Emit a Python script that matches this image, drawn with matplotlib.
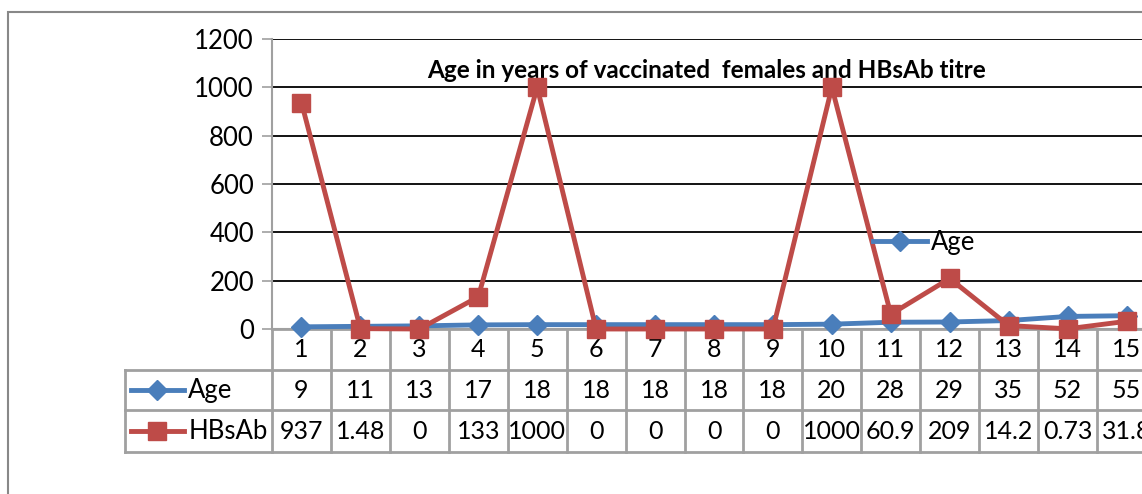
import matplotlib.pyplot as plt
from matplotlib.lines import Line2D
from matplotlib.patches import Rectangle
import matplotlib.transforms as mtrans

plt.rcParams['font.family'] = ['Lato', 'DejaVu Sans']

cats = list(range(1, 16))
age = [9, 11, 13, 17, 18, 18, 18, 18, 18, 20, 28, 29, 35, 52, 55]
hbsab = [937, 1.48, 0, 133, 1000, 0, 0, 0, 0, 1000, 60.9, 209, 14.2, 0.73, 31.8]
hbsab_txt = ["937", "1.48", "0", "133", "1000", "0", "0", "0", "0", "1000",
             "60.9", "209", "14.2", "0.73", "31.8"]
title = "Age in years of vaccinated  females and HBsAb titre"

blue = "#4A7EBB"
red = "#BE4B48"
grey = "#A0A0A0"
fs = 18

W, H = 1142, 494
fig = plt.figure(figsize=(W / 100, H / 100), dpi=100)

# outer chart border
fig.patches.append(Rectangle((8 / W, -0.1), 1.2, 1 - 12 / H + 0.1, transform=fig.transFigure,
                             fill=False, edgecolor="#888888", linewidth=1.5))

ax = fig.add_axes([272 / W, 1 - 329 / H, 884 / W, 290 / H])
ax.set_xlim(0.5, 15.5)
ax.set_ylim(0, 1200)
ax.set_yticks(range(0, 1201, 200))
ax.tick_params(axis='y', labelsize=18.5, length=7, width=1.2, color=grey, pad=6)
ax.set_xticks([])
for s in ['top', 'right', 'bottom']:
    ax.spines[s].set_visible(False)
ax.spines['left'].set_color(grey)
ax.spines['left'].set_linewidth(1.5)
for v in range(200, 1201, 200):
    ax.axhline(v, color="black", linewidth=1.3, zorder=1)
ax.axhline(0, color=grey, linewidth=1.5, zorder=1)

l_age, = ax.plot(cats, age, color=blue, linewidth=3.5, marker='D', markersize=10,
                 zorder=3, clip_on=False)
l_hb, = ax.plot(cats, hbsab, color=red, linewidth=3.5, marker='s', markersize=12.5,
                zorder=4, clip_on=False)

ax.text(0.491, 0.89, title, transform=ax.transAxes, ha='center', va='center',
        fontsize=17.5, fontweight='bold')

ax.legend([l_age], ['Age'], loc='center left', bbox_to_anchor=(0.68, 0.30),
          frameon=False, fontsize=18.5, handlelength=2.1, handletextpad=0.15, borderpad=0,
          borderaxespad=0)

# data table under the axis
tr = mtrans.blended_transform_factory(ax.transData, ax.transAxes)
rows = [0, -41 / 290, -81 / 290, -123 / 290]
hx = -2.0
lkw = dict(transform=tr, clip_on=False, color=grey, linewidth=2)
for x in [c + 0.5 for c in range(0, 16)]:
    ax.add_line(Line2D([x, x], [rows[0], rows[3]], **lkw))
ax.add_line(Line2D([hx, hx], [rows[1], rows[3]], **lkw))
ax.add_line(Line2D([0.5, 15.5], [rows[0], rows[0]], **lkw))
for r in rows[1:]:
    ax.add_line(Line2D([hx, 15.6], [r, r], **lkw))

ym = [(rows[k] + rows[k + 1]) / 2 for k in range(3)]
for i, c in enumerate(cats):
    ax.text(c, ym[0], str(c), transform=tr, ha='center', va='center', fontsize=fs, clip_on=False)
    ax.text(c, ym[1], str(age[i]), transform=tr, ha='center', va='center', fontsize=fs, clip_on=False)
    ax.text(c, ym[2], hbsab_txt[i], transform=tr, ha='center', va='center', fontsize=fs, clip_on=False)

for k, (lab, col, mk, ms) in enumerate([("Age", blue, 'D', 10), ("HBsAb", red, 's', 12.5)]):
    y = ym[k + 1]
    ax.add_line(Line2D([hx + 0.1, hx + 1.0], [y, y], transform=tr, clip_on=False,
                       color=col, linewidth=3.5))
    ax.add_line(Line2D([hx + 0.55], [y], transform=tr, clip_on=False, color=col,
                       marker=mk, markersize=ms, linestyle='none'))
    ax.text(hx + 1.08, y, lab, transform=tr, ha='left', va='center', fontsize=18.5, clip_on=False)

fig.savefig("out.png", dpi=100)
